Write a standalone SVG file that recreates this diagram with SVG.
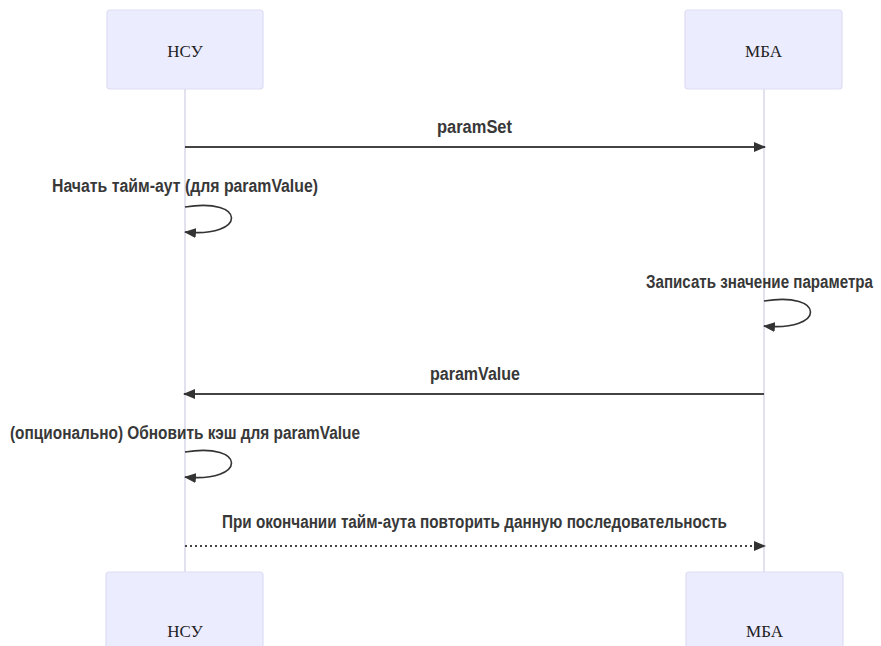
<svg xmlns="http://www.w3.org/2000/svg" width="881" height="646" viewBox="0 0 881 646">
  <style>
    .actor { fill: #ECECFF; stroke: #DDDDF3; stroke-width: 1.2; }
    .actor-text { font-family: "Liberation Serif", serif; font-size: 17px; fill: #222; text-anchor: middle; dominant-baseline: central; }
    .lifeline { stroke: #D2D2E6; stroke-width: 1.3; fill: none; }
    .msg { stroke: #444; stroke-width: 2; fill: none; }
    .msg-dotted { stroke: #444; stroke-width: 2; fill: none; stroke-dasharray: 2 3; }
    .loop { stroke: #333; stroke-width: 1.6; fill: none; }
    .label { font-family: "Liberation Sans", Arial, sans-serif; font-size: 17.5px; fill: #383838; font-weight: bold; }
  </style>
  <defs>
    <marker id="arrowhead" viewBox="0 0 12 10" refX="11" refY="5" markerWidth="12" markerHeight="10" markerUnits="userSpaceOnUse" orient="auto">
      <path d="M0,0 L12,5 L0,10 z" fill="#333"/>
    </marker>
  </defs>
  <rect width="881" height="646" fill="#FFFFFF"/>

  <!-- lifelines -->
  <g id="lifelines">
    <line class="lifeline" x1="185" y1="89" x2="185" y2="572"/>
    <line class="lifeline" x1="764" y1="89" x2="764" y2="572"/>
  </g>

  <!-- participants, top row -->
  <g id="actor-nsu-top">
    <rect class="actor" x="107" y="10" width="156" height="79" rx="3"/>
    <text class="actor-text" x="185" y="51">НСУ</text>
  </g>
  <g id="actor-mba-top">
    <rect class="actor" x="685" y="10" width="157" height="79" rx="3"/>
    <text class="actor-text" x="763.5" y="51">МБА</text>
  </g>

  <!-- participants, bottom row -->
  <g id="actor-nsu-bottom">
    <rect class="actor" x="106" y="572" width="157" height="79" rx="3"/>
    <text class="actor-text" x="185" y="631">НСУ</text>
  </g>
  <g id="actor-mba-bottom">
    <rect class="actor" x="686" y="572" width="157" height="79" rx="3"/>
    <text class="actor-text" x="764.5" y="631">МБА</text>
  </g>

  <!-- messages -->
  <g id="connectors">
    <line class="msg" x1="185" y1="147" x2="765" y2="147" marker-end="url(#arrowhead)"/>
    <path class="loop" d="M185,207 C247,197 247,238 185,232" marker-end="url(#arrowhead)"/>
    <path class="loop" d="M764,301 C826,291 826,332 764,326" marker-end="url(#arrowhead)"/>
    <line class="msg" x1="764" y1="394" x2="184" y2="394" marker-end="url(#arrowhead)"/>
    <path class="loop" d="M185,452 C247,442 247,483 185,477" marker-end="url(#arrowhead)"/>
    <line class="msg-dotted" x1="185" y1="546" x2="765" y2="546" marker-end="url(#arrowhead)"/>
  </g>

  <!-- message labels -->
  <g id="labels">
    <text class="label" x="437" y="133" textLength="75" lengthAdjust="spacingAndGlyphs">paramSet</text>
    <text class="label" x="52" y="192" textLength="266" lengthAdjust="spacingAndGlyphs">Начать тайм-аут (для paramValue)</text>
    <text class="label" x="646" y="288" textLength="227" lengthAdjust="spacingAndGlyphs">Записать значение параметра</text>
    <text class="label" x="430" y="380" textLength="90" lengthAdjust="spacingAndGlyphs">paramValue</text>
    <text class="label" x="10" y="439" textLength="350" lengthAdjust="spacingAndGlyphs">(опционально) Обновить кэш для paramValue</text>
    <text class="label" x="222" y="528" textLength="505" lengthAdjust="spacingAndGlyphs">При окончании тайм-аута повторить данную последовательность</text>
  </g>
</svg>
